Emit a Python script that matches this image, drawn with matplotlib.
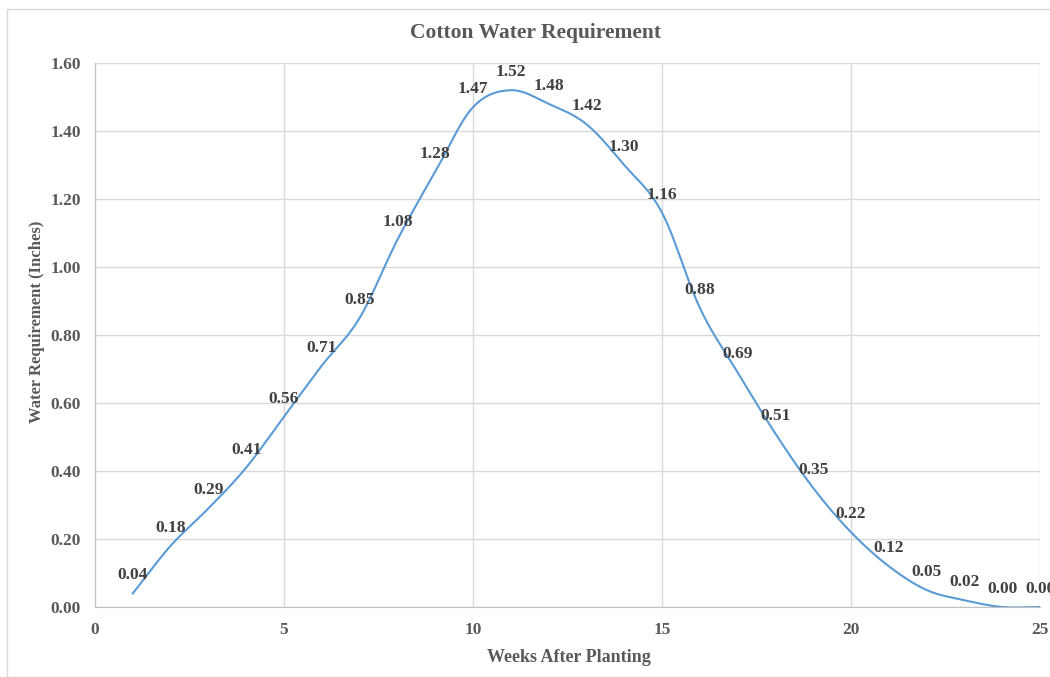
import numpy as np
import matplotlib
matplotlib.use("Agg")
import matplotlib.pyplot as plt
from matplotlib.patches import Rectangle

weeks = list(range(1, 26))
water = [0.04, 0.18, 0.29, 0.41, 0.56, 0.71, 0.85, 1.08, 1.28, 1.47, 1.52, 1.48,
         1.42, 1.30, 1.16, 0.88, 0.69, 0.51, 0.35, 0.22, 0.12, 0.05, 0.02, 0.00, 0.00]
x_ticks = [0, 5, 10, 15, 20, 25]
y_ticks = [0.0, 0.2, 0.4, 0.6, 0.8, 1.0, 1.2, 1.4, 1.6]

title = "Cotton Water Requirement"
xlabel = "Weeks After Planting"
ylabel = "Water Requirement (Inches)"

plt.rcParams['font.family'] = ['Liberation Serif', 'DejaVu Serif']

def smooth(xs, ys, n=20):
    # Catmull-Rom style smoothing for display (like Excel smoothed line)
    xs = np.asarray(xs, float); ys = np.asarray(ys, float)
    px = np.concatenate([[2*xs[0]-xs[1]], xs, [2*xs[-1]-xs[-2]]])
    py = np.concatenate([[2*ys[0]-ys[1]], ys, [2*ys[-1]-ys[-2]]])
    ox, oy = [], []
    t = np.linspace(0, 1, n, endpoint=False)
    for i in range(1, len(px)-2):
        p0, p1, p2, p3 = [np.array([px[j], py[j]]) for j in (i-1, i, i+1, i+2)]
        c1 = p1 + (p2 - p0) / 6.0
        c2 = p2 - (p3 - p1) / 6.0
        for tt in t:
            b = ((1-tt)**3)*p1 + 3*((1-tt)**2)*tt*c1 + 3*(1-tt)*tt**2*c2 + tt**3*p2
            ox.append(b[0]); oy.append(b[1])
    ox.append(xs[-1]); oy.append(ys[-1])
    return np.array(ox), np.array(oy)

fig = plt.figure(figsize=(10.5, 6.77), dpi=100)
W, H = 1050, 677
ax = fig.add_axes([95/W, 1-607/H, (1040-95)/W, (607-63)/H])

sx, sy = smooth(weeks, water)
ax.plot(sx, sy, color='#5b9bd5', lw=1.5, zorder=3, clip_on=True)

for xv, yv in zip(weeks, water):
    ax.annotate(f"{yv:.2f}", (xv, yv), xytext=(0, 13), textcoords='offset points',
                ha='center', va='center', fontsize=12.5, fontweight='bold',
                color='#404040', annotation_clip=False, zorder=4)

ax.set_xlim(0, 25)
ax.set_ylim(0, 1.6)
ax.set_xticks(x_ticks)
ax.set_yticks(y_ticks)
ax.set_yticklabels([f"{v:.2f}" for v in y_ticks])
ax.grid(True, color='#d9d9d9', lw=1)
ax.set_axisbelow(True)
for s in ['top', 'right']:
    ax.spines[s].set_visible(False)
for s in ['left', 'bottom']:
    ax.spines[s].set_color('#bfbfbf')
    ax.spines[s].set_zorder(3.5)
ax.tick_params(length=0, labelsize=12.5, labelcolor='#595959')
ax.tick_params(axis='y', pad=10)
ax.tick_params(axis='x', pad=11)
for lab in ax.get_xticklabels() + ax.get_yticklabels():
    lab.set_fontweight('bold')

fig.text(535/W, 1-33/H, title, ha='center', va='center', fontsize=15.5,
         fontweight='bold', color='#595959')
fig.text(569/W, 1-657/H, xlabel, ha='center', va='center', fontsize=13,
         fontweight='bold', color='#595959')
fig.text(37/W, 1-322/H, ylabel, ha='center', va='center', rotation=90,
         fontsize=12, fontweight='bold', color='#595959')

fig.patches.append(Rectangle((7/W, 0.5/H), (W-6)/W, (H-9.5)/H, transform=fig.transFigure,
                             fill=False, edgecolor='#d9d9d9', lw=1))

fig.savefig("out.png", dpi=100, facecolor='white')
